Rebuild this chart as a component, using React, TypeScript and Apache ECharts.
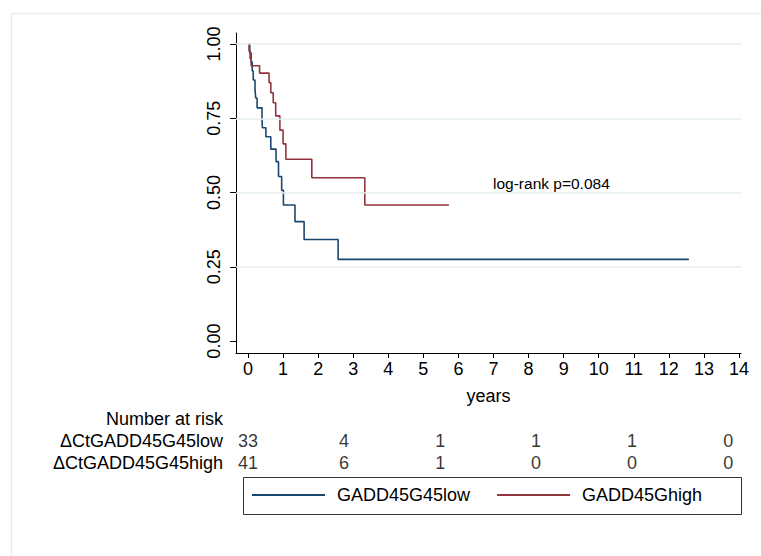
import React, { useEffect, useRef } from "react";
import * as echarts from "echarts";

// Kaplan-Meier steps (time in years, survival after the step)
const lowTimes = [0, 0.05, 0.09, 0.12, 0.15, 0.2, 0.22, 0.26, 0.4, 0.41, 0.51, 0.65, 0.8, 0.87, 0.96, 1.01, 1.34, 1.6, 2.57, 12.57];
const lowSurv = [1, 0.97, 0.939, 0.909, 0.879, 0.848, 0.818, 0.785, 0.75, 0.718, 0.688, 0.646, 0.604, 0.554, 0.508, 0.458, 0.402, 0.342, 0.275, 0.275];
const highTimes = [0, 0.03, 0.06, 0.09, 0.33, 0.6, 0.65, 0.72, 0.79, 0.91, 1.0, 1.08, 1.82, 3.33, 5.73];
const highSurv = [1, 0.976, 0.951, 0.927, 0.902, 0.87, 0.836, 0.802, 0.758, 0.71, 0.664, 0.612, 0.55, 0.458, 0.458];

const xTicks = [0, 1, 2, 3, 4, 5, 6, 7, 8, 9, 10, 11, 12, 13, 14];
const yTicks = [0, 0.25, 0.5, 0.75, 1];
const gridYs = [0.25, 0.5, 0.75, 1];

// risk table time points (years)
const riskTimes = [0, 2.74, 5.48, 8.21, 10.95, 13.69];
const riskLow = [33, 4, 1, 1, 1, 0];
const riskHigh = [41, 6, 1, 0, 0, 0];
const riskRows = ["ΔCtGADD45G45low", "ΔCtGADD45G45high"];

const seriesNames = ["GADD45G45low", "GADD45Ghigh"];
const pValueText = "log-rank p=0.084";

const BLUE = "#1a476f";
const RED = "#90353b";
const GRID = "#e3ecef";
const FONT = "Liberation Sans, Arial, sans-serif";

export default function App() {
  const ref = useRef<HTMLDivElement>(null);
  useEffect(() => {
    if (!ref.current) return;
    const chart = echarts.init(ref.current, undefined, { renderer: "svg" });
    const xmin = -0.342;
    const xmax = 14.057;
    const txt = { color: "#000", fontFamily: FONT, fontSize: 18 };
    chart.setOption({
      animation: false,
      backgroundColor: "#fff",
      textStyle: { fontFamily: FONT },
      grid: [
        { left: 236, right: 20, top: 33, bottom: 203 },
        { left: 236, right: 20, top: 430, height: 44 },
      ],
      xAxis: [
        {
          type: "value",
          gridIndex: 0,
          min: xmin,
          max: xmax,
          name: "years",
          nameLocation: "middle",
          nameGap: 34,
          nameTextStyle: { ...txt },
          axisLine: { show: true, onZero: false, lineStyle: { color: "#000", width: 1 } },
          axisTick: { show: true, customValues: xTicks, length: 5, lineStyle: { color: "#000" } },
          axisLabel: { customValues: xTicks, ...txt, margin: 7 },
          splitLine: { show: false },
        },
        {
          type: "value",
          gridIndex: 1,
          min: xmin,
          max: xmax,
          show: false,
          splitLine: { show: false },
        },
      ],
      yAxis: [
        {
          type: "value",
          gridIndex: 0,
          min: -0.04,
          max: 1.037,
          axisLine: { show: true, onZero: false, lineStyle: { color: "#000", width: 1 } },
          axisTick: { show: true, customValues: yTicks, length: 6, lineStyle: { color: "#000" } },
          axisLabel: {
            customValues: yTicks,
            formatter: (v: number) => v.toFixed(2),
            rotate: 90,
            ...txt,
            margin: 13,
          },
          splitLine: { show: false },
        },
        {
          type: "category",
          gridIndex: 1,
          inverse: true,
          data: riskRows,
          axisLine: { show: false },
          axisTick: { show: false },
          axisLabel: { ...txt, margin: 13, interval: 0, hideOverlap: false },
          splitLine: { show: false },
        },
      ],
      legend: {
        data: seriesNames,
        left: 252,
        top: 486,
        icon: "rect",
        itemWidth: 73,
        itemHeight: 2,
        itemGap: 27,
        padding: 0,
        textStyle: { ...txt, padding: [0, 0, 0, 7] },
      },
      graphic: [
        {
          type: "rect",
          shape: { x: 11.5, y: 13.5, width: 800, height: 600 },
          style: { fill: "none", stroke: GRID, lineWidth: 1.5 },
          silent: true,
          z: -1,
        },
        {
          type: "rect",
          shape: { x: 243.5, y: 477.5, width: 498, height: 37 },
          style: { fill: "none", stroke: "#333", lineWidth: 1 },
          silent: true,
        },
        {
          type: "text",
          x: 223,
          y: 419,
          style: { text: "Number at risk", fill: "#000", align: "right", verticalAlign: "middle", font: `18px ${FONT}` },
        },
        {
          type: "text",
          x: 493,
          y: 183,
          style: { text: pValueText, fill: "#000", align: "left", verticalAlign: "middle", font: `15.5px ${FONT}` },
        },
      ],
      series: [
        {
          name: "gridlines",
          type: "line",
          xAxisIndex: 0,
          yAxisIndex: 0,
          data: [],
          silent: true,
          z: 0,
          markLine: {
            silent: true,
            symbol: "none",
            label: { show: false },
            lineStyle: { color: GRID, width: 1.5, type: "solid" },
            data: gridYs.map((v) => ({ yAxis: v })),
          },
        },
        {
          name: seriesNames[0],
          type: "line",
          step: "end",
          xAxisIndex: 0,
          yAxisIndex: 0,
          showSymbol: false,
          symbol: "none",
          color: BLUE,
          lineStyle: { color: BLUE, width: 1.6 },
          data: lowTimes.map((t, i) => [t, lowSurv[i]]),
          z: 3,
        },
        {
          name: seriesNames[1],
          type: "line",
          step: "end",
          xAxisIndex: 0,
          yAxisIndex: 0,
          showSymbol: false,
          symbol: "none",
          color: RED,
          lineStyle: { color: RED, width: 1.6 },
          data: highTimes.map((t, i) => [t, highSurv[i]]),
          z: 3,
        },
        {
          name: "risk_low",
          type: "scatter",
          xAxisIndex: 1,
          yAxisIndex: 1,
          symbolSize: 1,
          itemStyle: { color: "rgba(0,0,0,0)" },
          label: { show: true, position: "inside", formatter: (p: any) => String(p.value[2]), ...txt },
          data: riskTimes.map((t, i) => [t, riskRows[0], riskLow[i]]),
        },
        {
          name: "risk_high",
          type: "scatter",
          xAxisIndex: 1,
          yAxisIndex: 1,
          symbolSize: 1,
          itemStyle: { color: "rgba(0,0,0,0)" },
          label: { show: true, position: "inside", formatter: (p: any) => String(p.value[2]), ...txt },
          data: riskTimes.map((t, i) => [t, riskRows[1], riskHigh[i]]),
        },
      ],
    });
    return () => chart.dispose();
  }, []);
  return (
    <div
      ref={ref}
      style={{ position: "absolute", left: 0, top: 0, width: 761, height: 556 }}
    />
  );
}
